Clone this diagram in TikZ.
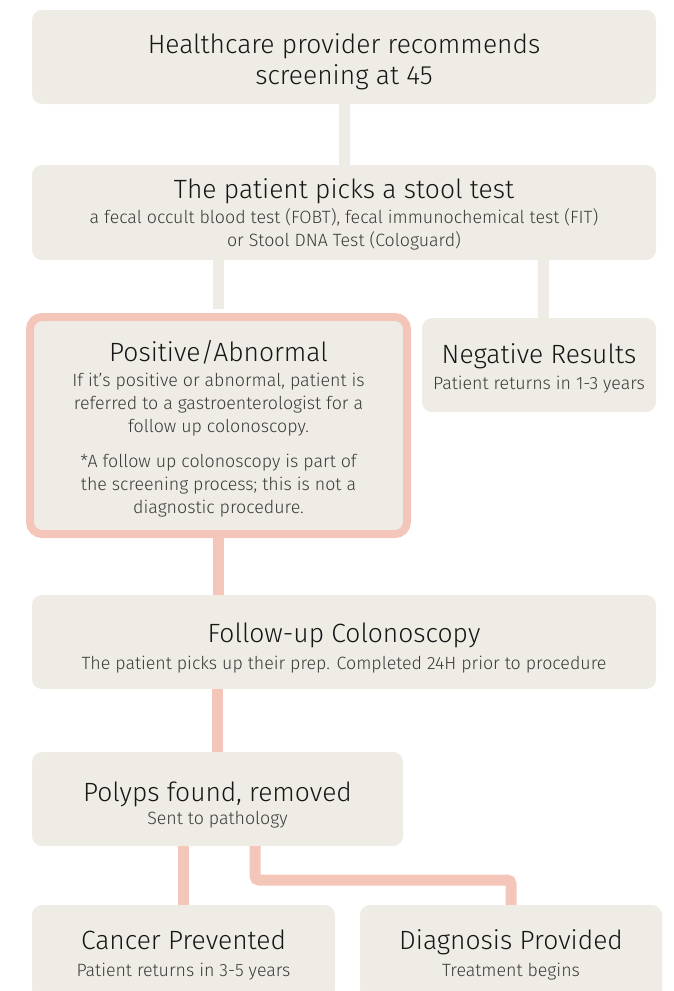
\documentclass[tikz,border=0pt]{standalone}
\usepackage{fontspec}
\setmainfont{Fira Sans}[UprightFont=* Light]
\usepackage{tikz}
\definecolor{boxfill}{HTML}{EFECE6}
\definecolor{pinkline}{HTML}{F4C6BA}
\definecolor{titleink}{HTML}{161616}
\definecolor{subink}{HTML}{3A3A3A}
\newcommand{\bigtext}{\fontsize{26.4}{31}\selectfont\color{titleink}}
\newcommand{\smalltext}{\fontsize{17.8}{23}\selectfont}
\newcommand{\titleline}[2]{\raisebox{0pt}[\dimexpr\height+#1\relax]{\bigtext #2}}

\begin{document}
\begin{tikzpicture}[x=1pt,y=-1pt,
	stepbox/.style={fill=boxfill,rounded corners=10pt,inner sep=0pt,align=center,text=subink,font=\smalltext},
	greylink/.style={draw=boxfill,line width=11pt},
	pinklink/.style={draw=pinkline,line width=11pt,rounded corners=4pt}]
	\useasboundingbox (0,0) rectangle (674,991);
	\clip (0,0) rectangle (674,991);
	\node[stepbox,minimum width=624pt,minimum height=94pt] (recommend) at (344,57)
		{\titleline{9pt}{Healthcare provider recommends}\\[5pt]{\bigtext screening at 45}};
	\node[stepbox,minimum width=624pt,minimum height=95pt] (stool) at (344,212.5)
		{\titleline{3pt}{The patient picks a stool test}\\[2pt]a fecal occult blood test (FOBT), fecal immunochemical test (FIT)\\or Stool DNA Test (Cologuard)};
	\node[stepbox,draw=pinkline,line width=8pt,rounded corners=12pt,minimum width=377pt,minimum height=217pt] (positive) at (218.5,425.5) {};
	\node[stepbox,minimum width=234pt,minimum height=94pt] (negative) at (539,365)
		{\titleline{6pt}{Negative Results}\\[3pt]Patient returns in 1-3 years};
	\node[stepbox,minimum width=624pt,minimum height=94pt] (colonoscopy) at (344,642)
		{\titleline{13pt}{Follow-up Colonoscopy}\\[4pt]The patient picks up their prep. Completed 24H prior to procedure};
	\node[stepbox,minimum width=371pt,minimum height=94pt] (polyps) at (217.5,799)
		{\titleline{12pt}{Polyps found, removed}\\[0pt]Sent to pathology};
	\node[stepbox,minimum width=303pt,minimum height=94pt] (prevented) at (183.5,952)
		{\titleline{6pt}{Cancer Prevented}\\[4pt]Patient returns in 3-5 years};
	\node[stepbox,minimum width=302pt,minimum height=94pt] (diagnosis) at (511,952)
		{\titleline{6pt}{Diagnosis Provided}\\[4pt]Treatment begins};
	\coordinate (split) at (255,880);
	\draw[greylink] (recommend) -- (stool);
	\draw[greylink] (positive.north |- stool.south) -- ([yshift=4pt]positive.north);
	\draw[greylink] ([xshift=4pt]negative.north |- stool.south) -- ([xshift=4pt]negative.north);
	\draw[pinklink] (positive.south) -- (positive.south |- colonoscopy.north);
	\draw[pinklink] (polyps.north |- colonoscopy.south) -- (polyps.north);
	\draw[pinklink] (prevented.north |- polyps.south) -- (prevented.north);
	\draw[pinklink] (split |- polyps.south) -- (split) -| (diagnosis.north);
	\node[align=center,text=subink,font=\smalltext] (positivetext) at ([yshift=-3pt]positive.center)
		{{\bigtext Positive/Abnormal}\\[2pt]If it's positive or abnormal, patient is\\referred to a gastroenterologist for a\\follow up colonoscopy.\\[12pt]*A follow up colonoscopy is part of\\the screening process; this is not a\\diagnostic procedure.};
\end{tikzpicture}
\end{document}
